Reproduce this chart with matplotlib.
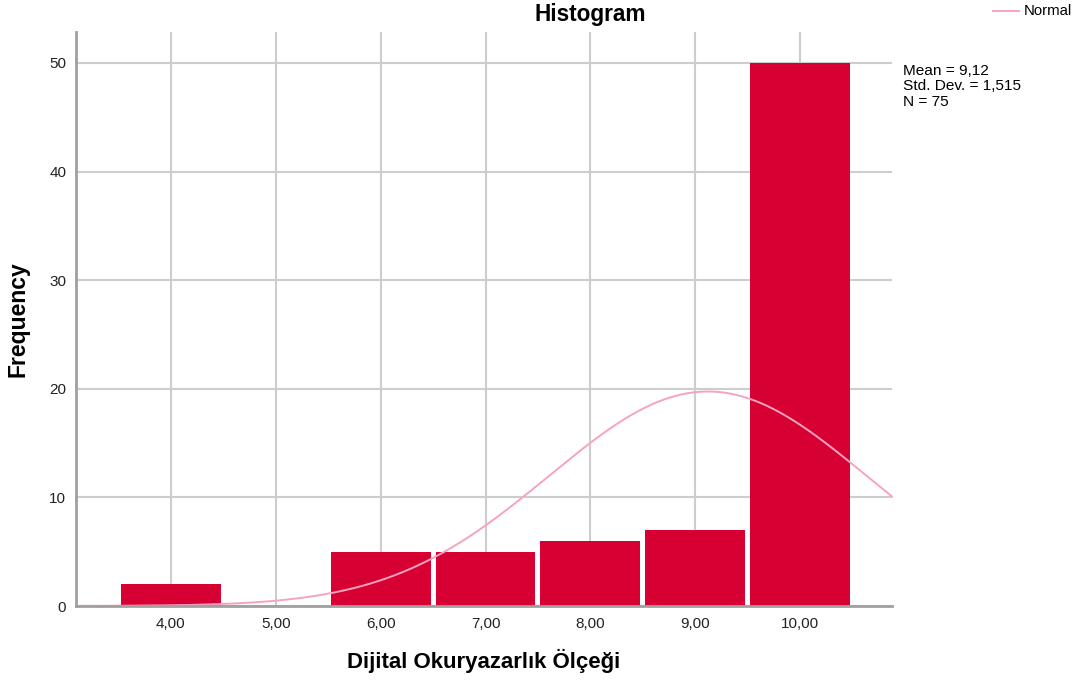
import matplotlib
matplotlib.use('Agg')
import matplotlib.pyplot as plt
import numpy as np

''' SPSS style histogram with normal curve '''

plt.rcParams['font.family'] = ['Liberation Sans', 'DejaVu Sans']

bin_centers = [4, 5, 6, 7, 8, 9, 10]
counts = [2, 0, 5, 5, 6, 7, 50]
tick_labels = ['4,00', '5,00', '6,00', '7,00', '8,00', '9,00', '10,00']
mean = 9.12
std = 1.515
n = 75

fig = plt.figure(figsize=(10.8, 6.86), dpi=100)
ax = fig.add_axes([76/1080, 80/686, 816/1080, 574/686])

ax.bar(bin_centers, counts, width=0.952, color='#D70032', zorder=3)

xmin, xmax = 3.095, 10.876
x = np.linspace(xmin, xmax, 400)
y = n * 1.0 * np.exp(-0.5 * ((x - mean) / std) ** 2) / (std * np.sqrt(2 * np.pi))
ax.plot(x, y, color='#F7A3C0', lw=1.4, zorder=4, clip_on=False)

ax.set_xlim(xmin, xmax)
ax.set_ylim(0, 52.85)
ax.set_xticks(bin_centers)
ax.set_xticklabels(tick_labels)
ax.set_yticks([0, 10, 20, 30, 40, 50])
ax.tick_params(axis='x', length=0, labelsize=11, colors='#222222', pad=8)
ax.tick_params(axis='y', length=0, labelsize=11, colors='#222222', pad=7)
ax.grid(True, color='#CDCDCD', lw=1.5, zorder=0)
for s in ['top', 'right']:
    ax.spines[s].set_visible(False)
for s in ['left', 'bottom']:
    ax.spines[s].set_color('#A0A0A0')
    ax.spines[s].set_linewidth(2)
    ax.spines[s].set_zorder(5)

ax.set_xlabel('Dijital Okuryazarlık Ölçeği', fontsize=16, fontweight='bold', labelpad=13)
ax.set_ylabel('Frequency', fontsize=16.5, fontweight='bold', labelpad=14)
fig.text(590/1080, 1 - 15/686, 'Histogram', ha='center', va='center', fontsize=16.3, fontweight='bold')

# legend and stats outside the axes
fig.add_artist(plt.Line2D([993/1080, 1019/1080], [1 - 11/686, 1 - 11/686], color='#F7A3C0', lw=1.4))
fig.text(1024/1080, 1 - 11/686, 'Normal', ha='left', va='center', fontsize=10.7)
fig.text(903/1080, 1 - 64/686, 'Mean = 9,12\nStd. Dev. = 1,515\nN = 75', ha='left', va='top',
         fontsize=11.1, linespacing=1.13)

fig.savefig('out.png', dpi=100)
